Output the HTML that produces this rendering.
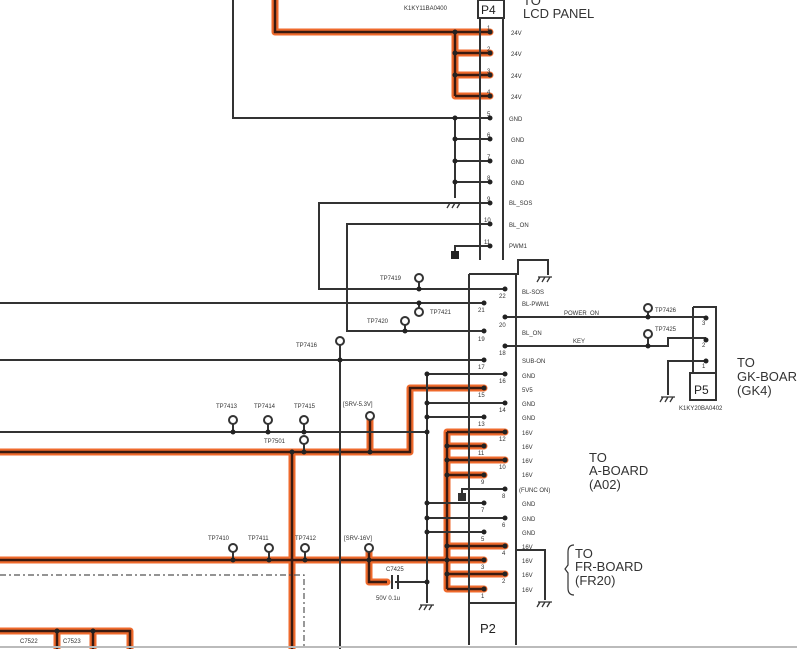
<!DOCTYPE html>
<html><head><meta charset="utf-8"><style>
html,body{margin:0;padding:0;background:#fff;}
svg{display:block;font-family:"Liberation Sans",sans-serif;}
.o{stroke:#ef6a2c;stroke-width:7;fill:none;stroke-linejoin:round;stroke-linecap:round;}
.ob{stroke:#3a1a10;stroke-width:2.5;fill:none;}
.k{stroke:#333;stroke-width:2;fill:none;}
.t{font-size:6px;fill:#333;}
.big{font-size:13px;fill:#333;}
</style></head><body>
<svg width="797" height="649" viewBox="0 0 797 649" xmlns="http://www.w3.org/2000/svg">
<rect width="797" height="649" fill="#fff"/>
<g class="o">
<path d="M275 0V32H490M455 32V96M455 53H490M455 75H490M455 96H490"/>
<path d="M0 452H410V388H484M370 420V452M292 452V649"/>
<path d="M0 560H484M447 432V589M447 432H505M447 446H484M447 460H505M447 475H484M447 546H505M447 574H505M447 589H484M369 552V582H387"/>
<path d="M0 631H130V649M57 631V649M93 631V649"/>
</g>
<g class="ob">
<path d="M275 0V32H490M455 32V96M455 53H490M455 75H490M455 96H490"/>
<path d="M0 452H410V388H484M370 420V452M292 452V649"/>
<path d="M0 560H484M447 432V589M447 432H505M447 446H484M447 460H505M447 475H484M447 546H505M447 574H505M447 589H484M369 552V582H387"/>
<path d="M0 631H130V649M57 631V649M93 631V649"/>
</g>
<g class="k">
<path d="M233 0V118H490M455 118V198M455 139H490M455 161H490M455 182H490"/>
<path d="M490 203H319V289H505M490 224H347V331H484M490 246H455V256"/>
<path d="M0 303H484M0 360H484M340 345V649M419 282V289M419 303V308M405 325V331"/>
<path d="M0 432H427M427 374V603M427 374H505M427 403H505M427 417H484M427 503H484M427 518H505M427 532H484M395 582H427"/>
<path d="M233 424V432M268 424V432M304 424V432M304 444V452M233 552V560M269 552V560M305 552V560"/>
<path d="M505 489H462V497"/>
<path d="M505 317H706M648 312V317M505 346H668V338H706M648 338V346M706 361H668V395"/>
<path d="M480 18V260M503 18V260"/>
<rect x="478" y="0" width="26" height="18"/>
<path d="M469 274H518V260H548V275M469 274V645M516 274V645M469 603H516M516 550H545V600"/>
<path d="M693 307H716V373M693 307V373"/>
<rect x="690" y="373" width="26" height="27"/>
<path d="M574 545Q568 545 568 552V565L565 569L568 573V588Q568 595 574 595" stroke-width="1.2"/>
</g>
<path d="M0 575H304V649" stroke="#555" stroke-width="1.2" fill="none" stroke-dasharray="6,3,2,3"/>
<line x1="0" y1="647" x2="797" y2="647" stroke="#bbb" stroke-width="2"/>
<g stroke="#333" stroke-width="2"><line x1="392" y1="575" x2="392" y2="589"/><line x1="398" y1="575" x2="398" y2="589"/></g>
<g stroke="#333" stroke-width="1.3" fill="none">
<path d="M449 203H462M450 203l-3 5M455 203l-3 5M460 203l-3 5"/>
<path d="M538 277H552M540 277l-3 5M545 277l-3 5M550 277l-3 5"/>
<path d="M420 605H434M422 605l-3 5M427 605l-3 5M432 605l-3 5"/>
<path d="M538 602H552M540 602l-3 5M545 602l-3 5M550 602l-3 5"/>
<path d="M661 397H675M663 397l-3 5M668 397l-3 5M673 397l-3 5"/>
</g>
<rect x="451" y="251" width="8" height="8" fill="#222"/>
<rect x="458" y="493" width="8" height="8" fill="#333"/>
<g fill="#222">
<circle cx="490" cy="32" r="2.5"/><circle cx="490" cy="53" r="2.5"/><circle cx="490" cy="75" r="2.5"/><circle cx="490" cy="96" r="2.5"/>
<circle cx="490" cy="118" r="2.5"/><circle cx="490" cy="139" r="2.5"/><circle cx="490" cy="161" r="2.5"/><circle cx="490" cy="182" r="2.5"/>
<circle cx="490" cy="203" r="2.5"/><circle cx="490" cy="224" r="2.5"/><circle cx="490" cy="246" r="2.5"/>
<circle cx="455" cy="32" r="2.5"/><circle cx="455" cy="53" r="2.5"/><circle cx="455" cy="75" r="2.5"/><circle cx="455" cy="118" r="2.5"/><circle cx="455" cy="139" r="2.5"/><circle cx="455" cy="161" r="2.5"/><circle cx="455" cy="182" r="2.5"/>
<circle cx="505" cy="289" r="2.5"/><circle cx="484" cy="303" r="2.5"/><circle cx="505" cy="317" r="2.5"/><circle cx="484" cy="331" r="2.5"/><circle cx="505" cy="346" r="2.5"/><circle cx="484" cy="360" r="2.5"/>
<circle cx="505" cy="374" r="2.5"/><circle cx="484" cy="388" r="2.5"/><circle cx="505" cy="403" r="2.5"/><circle cx="484" cy="417" r="2.5"/><circle cx="505" cy="432" r="2.5"/><circle cx="484" cy="446" r="2.5"/>
<circle cx="505" cy="460" r="2.5"/><circle cx="484" cy="475" r="2.5"/><circle cx="505" cy="489" r="2.5"/><circle cx="484" cy="503" r="2.5"/><circle cx="505" cy="518" r="2.5"/><circle cx="484" cy="532" r="2.5"/>
<circle cx="505" cy="546" r="2.5"/><circle cx="484" cy="560" r="2.5"/><circle cx="505" cy="574" r="2.5"/><circle cx="484" cy="589" r="2.5"/>
<circle cx="419" cy="289" r="2.5"/><circle cx="419" cy="303" r="2.5"/><circle cx="405" cy="331" r="2.5"/><circle cx="340" cy="360" r="2.5"/>
<circle cx="427" cy="374" r="2.5"/><circle cx="427" cy="403" r="2.5"/><circle cx="427" cy="417" r="2.5"/><circle cx="427" cy="432" r="2.5"/><circle cx="427" cy="503" r="2.5"/><circle cx="427" cy="518" r="2.5"/><circle cx="427" cy="532" r="2.5"/><circle cx="427" cy="582" r="2.5"/>
<circle cx="233" cy="432" r="2.5"/><circle cx="268" cy="432" r="2.5"/><circle cx="304" cy="432" r="2.5"/><circle cx="304" cy="452" r="2.5"/><circle cx="292" cy="452" r="2.5"/><circle cx="370" cy="452" r="2.5"/>
<circle cx="233" cy="560" r="2.5"/><circle cx="269" cy="560" r="2.5"/><circle cx="305" cy="560" r="2.5"/><circle cx="369" cy="560" r="2.5"/>
<circle cx="447" cy="446" r="2.5"/><circle cx="447" cy="460" r="2.5"/><circle cx="447" cy="475" r="2.5"/><circle cx="447" cy="546" r="2.5"/><circle cx="447" cy="560" r="2.5"/><circle cx="447" cy="574" r="2.5"/>
<circle cx="648" cy="317" r="2.5"/><circle cx="648" cy="346" r="2.5"/><circle cx="706" cy="318" r="2.5"/><circle cx="706" cy="340" r="2.5"/><circle cx="706" cy="361" r="2.5"/>
<circle cx="57" cy="631" r="2.5"/><circle cx="93" cy="631" r="2.5"/>
</g>
<g fill="#fff" stroke="#333" stroke-width="2">
<circle cx="419" cy="278" r="4"/><circle cx="419" cy="312" r="4"/><circle cx="405" cy="321" r="4"/><circle cx="340" cy="341" r="4"/>
<circle cx="233" cy="420" r="4"/><circle cx="268" cy="420" r="4"/><circle cx="304" cy="420" r="4"/><circle cx="304" cy="440" r="4"/><circle cx="370" cy="416" r="4"/>
<circle cx="233" cy="548" r="4"/><circle cx="269" cy="548" r="4"/><circle cx="305" cy="548" r="4"/><circle cx="369" cy="548" r="4"/>
<circle cx="648" cy="308" r="4"/><circle cx="648" cy="334" r="4"/>
</g>
<text x="481" y="14" style="font-size:12px;fill:#222">P4</text>
<text x="404" y="10" class="t">K1KY11BA0400</text>
<text x="523" y="5" class="big">TO</text>
<text x="523" y="18" class="big">LCD PANEL</text>
<g class="t">
<text x="511" y="35">24V</text><text x="511" y="56">24V</text><text x="511" y="78">24V</text><text x="511" y="99">24V</text>
<text x="509" y="121">GND</text><text x="511" y="142">GND</text><text x="511" y="164">GND</text><text x="511" y="185">GND</text>
<text x="509" y="205">BL_SOS</text><text x="509" y="227">BL_ON</text><text x="509" y="248">PWM1</text>
<text x="487" y="30">1</text><text x="487" y="51">2</text><text x="487" y="73">3</text><text x="487" y="94">4</text><text x="487" y="116">5</text><text x="487" y="137">6</text><text x="487" y="159">7</text><text x="487" y="180">8</text><text x="487" y="201">9</text><text x="484" y="222">10</text><text x="484" y="244">11</text>
</g>
<g class="t">
<text x="522" y="294">BL-SOS</text><text x="522" y="306">BL-PWM1</text><text x="564" y="315">POWER_ON</text><text x="522" y="335">BL_ON</text><text x="573" y="343">KEY</text>
<text x="522" y="363">SUB-ON</text><text x="522" y="378">GND</text><text x="522" y="392">5V5</text><text x="522" y="406">GND</text><text x="522" y="420">GND</text>
<text x="522" y="435">16V</text><text x="522" y="449">16V</text><text x="522" y="463">16V</text><text x="522" y="477">16V</text><text x="519" y="492">(FUNC ON)</text>
<text x="522" y="506">GND</text><text x="522" y="521">GND</text><text x="522" y="535">GND</text>
<text x="522" y="549">16V</text><text x="522" y="563">16V</text><text x="522" y="577">16V</text><text x="522" y="592">16V</text>
<text x="499" y="298">22</text><text x="478" y="312">21</text><text x="499" y="327">20</text><text x="478" y="341">19</text><text x="499" y="355">18</text><text x="478" y="369">17</text><text x="499" y="383">16</text><text x="478" y="397">15</text><text x="499" y="412">14</text><text x="478" y="426">13</text><text x="499" y="441">12</text><text x="478" y="455">11</text><text x="499" y="469">10</text><text x="481" y="484">9</text><text x="502" y="498">8</text><text x="481" y="512">7</text><text x="502" y="527">6</text><text x="481" y="541">5</text><text x="502" y="555">4</text><text x="481" y="569">3</text><text x="502" y="583">2</text><text x="481" y="598">1</text>
<text x="380" y="280">TP7419</text><text x="430" y="314">TP7421</text><text x="367" y="323">TP7420</text><text x="296" y="347">TP7416</text>
<text x="216" y="408">TP7413</text><text x="254" y="408">TP7414</text><text x="294" y="408">TP7415</text><text x="264" y="443">TP7501</text><text x="343" y="406">[SRV-5.3V]</text>
<text x="208" y="540">TP7410</text><text x="248" y="540">TP7411</text><text x="295" y="540">TP7412</text><text x="344" y="540">[SRV-16V]</text>
<text x="386" y="571">C7425</text><text x="376" y="600">50V 0.1u</text>
<text x="655" y="312">TP7426</text><text x="655" y="331">TP7425</text>
<text x="702" y="325">3</text><text x="702" y="347">2</text><text x="702" y="368">1</text>
<text x="679" y="410">K1KY20BA0402</text>
<text x="20" y="643">C7522</text><text x="63" y="643">C7523</text>
</g>
<text x="480" y="633" style="font-size:13px;fill:#222">P2</text>
<text x="694" y="394" style="font-size:12px;fill:#222">P5</text>
<g class="big">
<text x="737" y="367">TO</text><text x="737" y="381">GK-BOARD</text><text x="737" y="395">(GK4)</text>
<text x="589" y="462">TO</text><text x="589" y="475">A-BOARD</text><text x="589" y="489">(A02)</text>
<text x="575" y="558">TO</text><text x="575" y="571">FR-BOARD</text><text x="575" y="585">(FR20)</text>
</g>
</svg>
</body></html>
